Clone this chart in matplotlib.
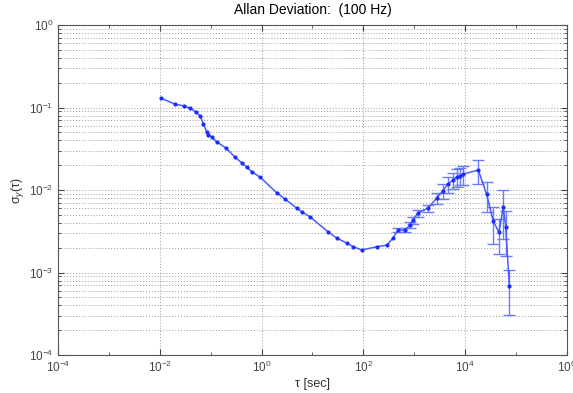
import numpy as np
import matplotlib
matplotlib.use("Agg")
import matplotlib.pyplot as plt
from matplotlib.ticker import LogLocator, NullFormatter

plt.rcParams["font.family"] = ["Liberation Sans", "DejaVu Sans"]
plt.rcParams["mathtext.fontset"] = "custom"
plt.rcParams["mathtext.rm"] = "Liberation Sans"
plt.rcParams["mathtext.it"] = "Liberation Sans:italic"

# averaging times [sec] and Allan deviation
tau = [0.0104, 0.0199, 0.030, 0.040, 0.051, 0.062, 0.0716, 0.083, 0.090, 0.105,
       0.131, 0.2, 0.3, 0.406, 0.51, 0.64, 0.93, 1.98, 2.88, 4.9, 6.1, 8.9,
       20.2, 29.9, 47, 62.5, 92.7, 182, 287, 382, 479, 657, 824, 943, 1181,
       1857, 2754, 3662, 4595, 5754, 6800, 7900, 9060, 18100, 26400, 35600,
       46100, 56000, 62500, 73600]
adev = [0.131, 0.110, 0.105, 0.098, 0.089, 0.079, 0.064, 0.051, 0.047, 0.044,
        0.0385, 0.0323, 0.0251, 0.0214, 0.019, 0.0167, 0.0144, 0.00927,
        0.00778, 0.00605, 0.00546, 0.00475, 0.00312, 0.00262, 0.00228,
        0.00206, 0.00188, 0.00205, 0.00215, 0.00262, 0.00327, 0.00327,
        0.00377, 0.00433, 0.00526, 0.00605, 0.0080, 0.0098, 0.0118, 0.0132,
        0.0144, 0.0149, 0.0156, 0.0175, 0.00887, 0.00421, 0.00307, 0.00628,
        0.00359, 0.000686]
# error bar half-lengths (0 = too small to see)
err = [0, 0, 0, 0, 0, 0, 0, 0, 0, 0,
       0, 0, 0, 0, 0, 0, 0, 0, 0, 0, 0, 0,
       0, 0, 0, 0, 0, 0, 0, 0, 0.0002, 0.0002,
       0.0003, 0.0004, 0.0005, 0.0006, 0.0012, 0.002, 0.0025, 0.003,
       0.0035, 0.0035, 0.004, 0.0057, 0.0035, 0.002, 0.0014, 0.0037,
       0.002, 0.00038]

tau_a = np.array(tau)
adev_a = np.array(adev)
err_a = np.array(err)
has_err = err_a > 0

fig = plt.figure(figsize=(5.73, 3.93), dpi=100)
ax = fig.add_axes([0.1012, 0.0967, 0.8883, 0.8393])

ax.errorbar(tau_a[has_err], adev_a[has_err], yerr=err_a[has_err], fmt="none",
            ecolor="#6b7bff", elinewidth=1.0, capsize=4, zorder=3)
ax.plot(tau_a, adev_a, "-", color="#4a5cff", lw=1.1, zorder=3)
ax.plot(tau_a, adev_a, ".", color="#1a2cff", ms=4, zorder=4)

ax.set_xscale("log")
ax.set_yscale("log")
ax.set_xlim(1e-4, 1e6)
ax.set_ylim(1e-4, 1e0)
ax.set_xticks([1e-4, 1e-2, 1e0, 1e2, 1e4, 1e6])
ax.xaxis.set_minor_locator(LogLocator(base=10, subs=[10.0], numticks=20))
ax.xaxis.set_minor_formatter(NullFormatter())
ax.yaxis.set_major_locator(LogLocator(base=10, numticks=10))
ax.yaxis.set_minor_locator(LogLocator(base=10, subs=np.arange(2, 10), numticks=50))
ax.yaxis.set_minor_formatter(NullFormatter())

ax.grid(True, which="major", ls=(0, (1, 2)), color="#999999", lw=0.7)
ax.grid(True, which="minor", axis="y", ls=(0, (1, 2)), color="#999999", lw=0.7)
ax.tick_params(which="both", direction="in", top=True, right=True,
               labelsize=8.5, colors="#444444")
ax.tick_params(which="major", length=4)
ax.tick_params(which="minor", length=2)
for s in ax.spines.values():
    s.set_color("#555555")
    s.set_linewidth(0.8)

ax.set_title("Allan Deviation:  (100 Hz)", fontsize=10, pad=8)
ax.set_xlabel("τ [sec]", fontsize=9, color="#333333", labelpad=2)
ax.set_ylabel("σ$_y$(τ)", fontsize=9, color="#333333", labelpad=2)

fig.savefig("out.png", dpi=100)
